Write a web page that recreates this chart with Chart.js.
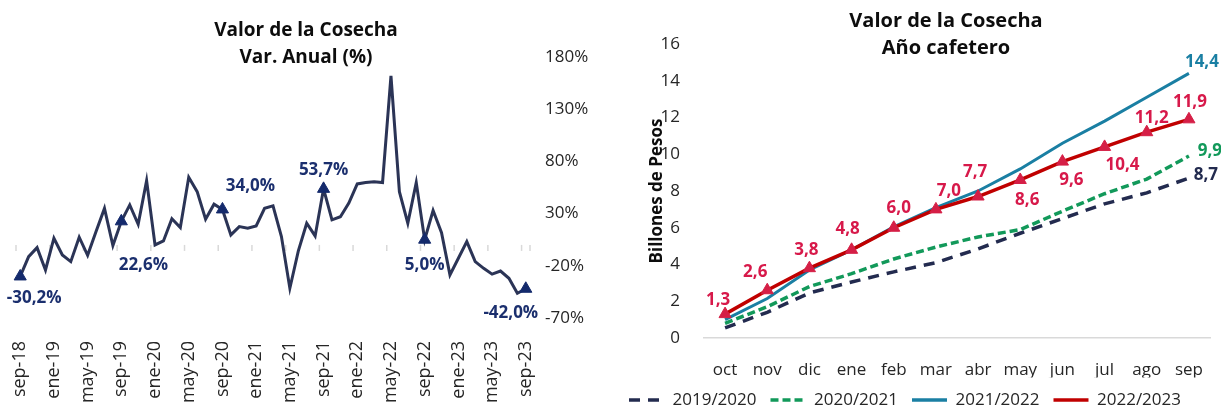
<!DOCTYPE html>
<html>
<head>
<meta charset="utf-8">
<script src="https://cdn.jsdelivr.net/npm/chart.js@4.4.0/dist/chart.umd.min.js"></script>
<style>
  body { margin: 0; background: #fff; width: 1221px; height: 407px; overflow: hidden; position: relative; font-family: 'Open Sans', sans-serif; }
  #leftBox { position: absolute; left: 0; top: 0; width: 600px; height: 407px; }
  #rightBox { position: absolute; left: 600px; top: 0; width: 621px; height: 407px; }
  .title { position: absolute; font-weight: 700; text-align: center; line-height: 27px; color: #0d0d0d; white-space: nowrap; }
</style>
</head>
<body>
<div id="leftBox"><canvas id="varChart" width="600" height="407"></canvas></div>
<div id="rightBox"><canvas id="accChart" width="621" height="407"></canvas></div>
<div class="title" style="left:156px;top:16px;width:300px;font-size:19px;">Valor de la Cosecha<br>Var. Anual (%)</div>
<div class="title" style="left:796px;top:6px;width:300px;font-size:20px;">Valor de la Cosecha<br>Año cafetero</div>
<script>
Chart.defaults.font.family = "'Open Sans', sans-serif";
Chart.defaults.color = '#262626';

// ---- left chart data: annual variation, sep-18 .. sep-23
const monthNames = ['sep', 'oct', 'nov', 'dic', 'ene', 'feb', 'mar', 'abr', 'may', 'jun', 'jul', 'ago'];
const monthLabels = [];
for (let i = 0; i < 61; i++) {
    const yr = 18 + Math.floor((i + 8) / 12);
    monthLabels.push(monthNames[i % 12] + '-' + yr);
}
const anualVar = [
    -30.2, -11.2, -2.6, -24, 6.4, -9.6, -16, 7.4, -10, 12.8, 35, -0.6,
    22.6, 38.3, 19.8, 61.6, 0, 3.8, 25, 16.6, 64.8, 51, 24.6, 39,
    34.0, 9.6, 17.5, 16, 18.2, 35.1, 37.4, 8, -41.5, -6, 20.8, 8.6,
    53.7, 24, 27, 40, 58.4, 59.7, 60.6, 59.7, 161.9, 51, 20.8, 59.7,
    5.0, 32.9, 11.8, -28.7, -12.8, 3.2, -16, -22.4, -28, -25, -32, -46.3,
    -42.0
];
const markIdx = [0, 12, 24, 36, 48, 60];

// ---- right chart data: accumulated value, coffee year
const coffeeMonths = ['oct', 'nov', 'dic', 'ene', 'feb', 'mar', 'abr', 'may', 'jun', 'jul', 'ago', 'sep'];
const y1920 = [0.55, 1.4, 2.45, 3.05, 3.6, 4.1, 4.85, 5.7, 6.5, 7.3, 7.9, 8.7];
const y2021 = [0.8, 1.7, 2.8, 3.5, 4.3, 4.95, 5.5, 5.9, 6.9, 7.85, 8.65, 9.9];
const y2122 = [1.0, 2.15, 3.7, 4.8, 6.05, 7.1, 8.0, 9.2, 10.6, 11.8, 13.1, 14.4];
const y2223 = [1.3, 2.6, 3.8, 4.8, 6.0, 7.0, 7.7, 8.6, 9.6, 10.4, 11.2, 11.9];

const fmt = v => v.toFixed(1).replace('.', ',');

// label offsets (pixels from the point)
const markDx = [14, 22, 28, 0, 0, -15];
const markDy = [22, 44, -23, -19, 25, 24];
const redDx = [-7, -12, -3, -4, 5, 13, -3, 7, 9, 18, 5, 1];
const redDy = [-14, -18, -18, -21, -20, -18, -24, 20, 19, 18, -14, -17];

const zeroTicks = {
    id: 'zeroTicks',
    beforeDatasetsDraw(chart) {
        const { ctx, scales: { x, y } } = chart;
        const y0 = y.getPixelForValue(0);
        const half = (x.getPixelForTick(1) - x.getPixelForTick(0)) / 2;
        ctx.save();
        ctx.strokeStyle = '#d9d9d9';
        ctx.lineWidth = 1.5;
        for (let i = 0; i < monthLabels.length; i += 4) {
            const px = x.getPixelForTick(i) - half;
            ctx.beginPath(); ctx.moveTo(px, y0); ctx.lineTo(px, y0 + 6); ctx.stroke();
        }
        ctx.beginPath(); ctx.moveTo(x.right, y0); ctx.lineTo(x.right, y0 + 6); ctx.stroke();
        ctx.restore();
    }
};

const markLabels = {
    id: 'markLabels',
    afterDatasetsDraw(chart) {
        const ctx = chart.ctx;
        const meta = chart.getDatasetMeta(0);
        ctx.save();
        ctx.font = "bold 17px 'Open Sans', sans-serif";
        ctx.fillStyle = '#1b2f6e';
        ctx.textAlign = 'center';
        ctx.textBaseline = 'middle';
        markIdx.forEach((idx, k) => {
            const p = meta.data[idx];
            ctx.fillText(fmt(anualVar[idx]) + '%', p.x + markDx[k], p.y + markDy[k]);
        });
        ctx.restore();
    }
};

new Chart(document.getElementById('varChart'), {
    type: 'line',
    data: {
        labels: monthLabels,
        datasets: [{
            data: anualVar,
            borderColor: '#2b3456',
            borderWidth: 3,
            tension: 0,
            pointStyle: 'triangle',
            pointRadius: ctx => markIdx.includes(ctx.dataIndex) ? 7 : 0,
            pointHoverRadius: 0,
            pointBackgroundColor: '#142a6c',
            pointBorderColor: '#142a6c',
            pointBorderWidth: 1
        }]
    },
    options: {
        responsive: false,
        animation: false,
        layout: { padding: { left: 16, top: 57, right: 0, bottom: 0 } },
        plugins: { legend: { display: false }, tooltip: { enabled: false } },
        scales: {
            x: {
                offset: true,
                grid: { display: false },
                border: { display: false },
                ticks: {
                    autoSkip: false, minRotation: 90, maxRotation: 90, padding: 15,
                    font: { size: 18 },
                    callback: (v, i) => i % 4 === 0 ? monthLabels[i] : ''
                },
                afterFit: s => { s.height = 89; s.paddingLeft = 0; s.paddingRight = 0; }
            },
            y: {
                position: 'right',
                min: -70, max: 180,
                border: { display: false },
                grid: {
                    drawTicks: false,
                    lineWidth: 1.5,
                    color: c => c.tick.value === 0 ? '#d9d9d9' : 'rgba(0,0,0,0)'
                },
                ticks: { stepSize: 50, padding: 15, font: { size: 17 }, callback: v => v + '%' },
                afterFit: s => { s.width = 70; }
            }
        }
    },
    plugins: [zeroTicks, markLabels]
});

const valueLabels = {
    id: 'valueLabels',
    afterDatasetsDraw(chart) {
        const ctx = chart.ctx;
        ctx.save();
        ctx.font = "bold 17px 'Open Sans', sans-serif";
        ctx.textAlign = 'center';
        ctx.textBaseline = 'middle';
        const red = chart.getDatasetMeta(3);
        ctx.fillStyle = '#d7194a';
        y2223.forEach((v, i) => {
            const p = red.data[i];
            ctx.fillText(fmt(v), p.x + redDx[i], p.y + redDy[i]);
        });
        const ends = [[0, y1920, '#232b4f', 17, -3], [1, y2021, '#12995a', 21, -5], [2, y2122, '#1a7fa3', 13, -11]];
        ends.forEach(([di, arr, col, dx, dy]) => {
            const meta = chart.getDatasetMeta(di);
            const last = arr.length - 1;
            const p = meta.data[last];
            ctx.fillStyle = col;
            ctx.fillText(fmt(arr[last]), p.x + dx, p.y + dy);
        });
        ctx.restore();
    }
};

new Chart(document.getElementById('accChart'), {
    type: 'line',
    data: {
        labels: coffeeMonths,
        datasets: [
            { label: '2019/2020', data: y1920, borderColor: '#232b4f', borderWidth: 3.5, borderDash: [11, 8], pointRadius: 0, order: 3 },
            { label: '2020/2021', data: y2021, borderColor: '#12995a', borderWidth: 3.5, borderDash: [8, 4], pointRadius: 0, order: 2 },
            { label: '2021/2022', data: y2122, borderColor: '#1a7fa3', borderWidth: 3, pointRadius: 0, order: 1 },
            {
                label: '2022/2023', data: y2223, borderColor: '#c00000', borderWidth: 3.5, order: 0,
                pointStyle: 'triangle', pointRadius: 7, pointHoverRadius: 7,
                pointBackgroundColor: '#d51f46', pointBorderColor: '#d51f46', pointBorderWidth: 1
            }
        ]
    },
    options: {
        responsive: false,
        animation: false,
        layout: { padding: { left: 0, top: 44, right: 11, bottom: -11.5 } },
        plugins: {
            tooltip: { enabled: false },
            legend: {
                position: 'bottom',
                labels: {
                    usePointStyle: true,
                    pointStyleWidth: 35,
                    padding: 14,
                    font: { size: 17 },
                    color: '#262626',
                    generateLabels: chart => chart.data.datasets.map((ds, i) => ({
                        text: ds.label,
                        strokeStyle: ds.borderColor,
                        fillStyle: ds.borderColor,
                        lineWidth: 3.5,
                        lineDash: ds.borderDash || [],
                        pointStyle: 'line',
                        hidden: false,
                        datasetIndex: i,
                        fontColor: '#262626'
                    }))
                }
            }
        },
        scales: {
            x: {
                offset: true,
                grid: { display: false },
                border: { display: true, color: '#d9d9d9', width: 1.5 },
                ticks: { padding: 14, font: { size: 17 } },
                afterFit: s => { s.height = 39.5; }
            },
            y: {
                min: 0, max: 16,
                grid: { display: false },
                border: { display: false },
                ticks: { stepSize: 2, padding: 16, font: { size: 17 } },
                title: { display: true, text: 'Billones de Pesos', color: '#0d0d0d', font: { size: 17, weight: 'bold' }, padding: { top: 47, bottom: 0 } },
                afterFit: s => { s.width = 104; }
            }
        }
    },
    plugins: [valueLabels]
});
</script>
</body>
</html>
